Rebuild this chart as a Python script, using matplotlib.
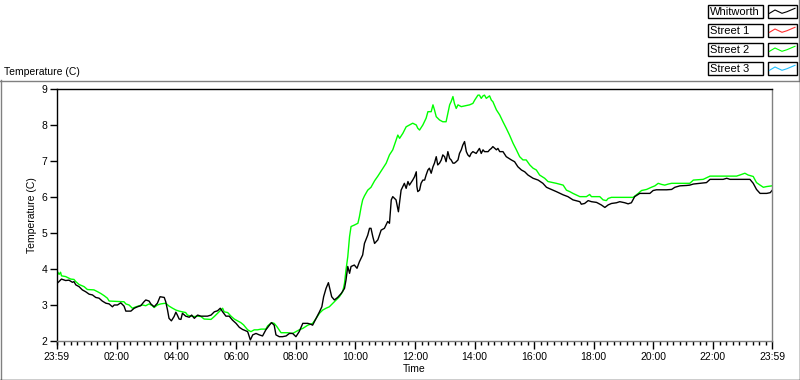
import numpy as np
import matplotlib
matplotlib.use("Agg")
import matplotlib.pyplot as plt
from matplotlib.patches import Rectangle
from matplotlib.ticker import FixedLocator

# -------------------------
# Data (hours after 23:59, temperature in C)
# -------------------------

whitworth_hours = [
    0.00, 0.03, 0.15, 0.29, 0.40, 0.52, 0.57, 0.63, 0.74, 0.85, 0.96, 1.08,
    1.19, 1.30, 1.41, 1.52, 1.64, 1.75, 1.86, 1.92, 2.03, 2.14, 2.25, 2.31,
    2.48, 2.59, 2.70, 2.81, 2.92, 2.98, 3.09, 3.15, 3.26, 3.37, 3.46, 3.60,
    3.65, 3.71, 3.76, 3.84, 3.93, 3.99, 4.04, 4.10, 4.16, 4.21, 4.32, 4.44,
    4.52, 4.61, 4.72, 4.83, 5.05, 5.17, 5.28, 5.39, 5.48, 5.56, 5.67, 5.78,
    5.89, 6.01, 6.12, 6.23, 6.29, 6.40, 6.49, 6.57, 6.68, 6.79, 6.90, 7.01,
    7.13, 7.20, 7.29, 7.35, 7.46, 7.57, 7.69, 7.80, 7.91, 8.02, 8.13, 8.25,
    8.42, 8.53, 8.58, 8.70, 8.81, 8.89, 8.95, 9.03, 9.11, 9.17, 9.22, 9.31,
    9.42, 9.54, 9.65, 9.70, 9.76, 9.82, 9.87, 9.98, 10.07, 10.15, 10.26, 10.32,
    10.43, 10.49, 10.54, 10.60, 10.66, 10.77, 10.88, 10.99, 11.10, 11.16, 11.22, 11.27,
    11.38, 11.46, 11.55, 11.61, 11.66, 11.72, 11.78, 11.83, 11.94, 12.00, 12.06, 12.08,
    12.11, 12.17, 12.22, 12.28, 12.34, 12.39, 12.45, 12.50, 12.56, 12.62, 12.67, 12.73,
    12.78, 12.84, 12.90, 12.95, 13.01, 13.06, 13.12, 13.18, 13.23, 13.29, 13.34, 13.40,
    13.46, 13.51, 13.57, 13.62, 13.68, 13.74, 13.79, 13.85, 13.90, 13.96, 14.07, 14.18,
    14.24, 14.30, 14.35, 14.47, 14.52, 14.58, 14.63, 14.75, 14.80, 14.86, 14.97, 15.08,
    15.25, 15.36, 15.47, 15.59, 15.70, 15.81, 15.98, 16.15, 16.31, 16.43, 16.51, 16.76,
    16.99, 17.15, 17.32, 17.55, 17.60, 17.71, 17.83, 17.94, 18.11, 18.27, 18.39, 18.50,
    18.61, 18.78, 18.89, 19.06, 19.17, 19.28, 19.39, 19.56, 19.90, 20.01, 20.12, 20.46,
    20.63, 20.74, 20.91, 21.13, 21.24, 21.36, 21.58, 21.80, 21.92, 22.36, 22.48, 22.59,
    23.26, 23.37, 23.48, 23.60, 23.82, 23.94, 24.00,
]
whitworth_temp = [
    3.65, 3.62, 3.72, 3.68, 3.69, 3.63, 3.65, 3.56, 3.51, 3.42, 3.37, 3.30,
    3.28, 3.21, 3.19, 3.11, 3.05, 3.03, 2.95, 3.00, 3.00, 3.06, 2.97, 2.83,
    2.83, 2.91, 2.95, 2.98, 3.09, 3.14, 3.11, 3.03, 2.95, 3.05, 3.23, 3.21,
    3.09, 2.86, 2.63, 2.56, 2.68, 2.80, 2.72, 2.61, 2.60, 2.77, 2.69, 2.66,
    2.72, 2.63, 2.72, 2.69, 2.69, 2.72, 2.81, 2.84, 2.91, 2.81, 2.69, 2.69,
    2.58, 2.49, 2.38, 2.32, 2.30, 2.26, 2.03, 2.17, 2.21, 2.17, 2.14, 2.31,
    2.44, 2.51, 2.44, 2.17, 2.12, 2.12, 2.14, 2.21, 2.21, 2.12, 2.26, 2.49,
    2.49, 2.46, 2.44, 2.63, 2.81, 2.95, 3.23, 3.46, 3.62, 3.40, 3.23, 3.14,
    3.21, 3.32, 3.46, 3.69, 4.07, 3.88, 4.07, 4.11, 4.02, 4.20, 4.39, 4.71,
    4.94, 5.13, 5.13, 4.90, 4.71, 4.81, 5.08, 5.13, 5.32, 5.27, 5.92, 6.01,
    5.92, 5.59, 6.19, 6.29, 6.38, 6.24, 6.43, 6.33, 6.47, 6.56, 6.70, 6.29,
    6.15, 6.19, 6.38, 6.47, 6.47, 6.61, 6.75, 6.80, 6.66, 6.84, 6.94, 7.12,
    6.89, 6.94, 7.03, 7.17, 7.12, 6.98, 7.26, 7.07, 7.03, 6.94, 6.94, 6.98,
    7.03, 7.21, 7.31, 7.44, 7.54, 7.26, 7.17, 7.12, 7.21, 7.26, 7.21, 7.35,
    7.21, 7.31, 7.26, 7.26, 7.31, 7.35, 7.40, 7.31, 7.35, 7.26, 7.26, 7.12,
    7.03, 6.98, 6.84, 6.75, 6.70, 6.61, 6.52, 6.47, 6.38, 6.27, 6.24, 6.15,
    6.06, 6.01, 5.92, 5.87, 5.80, 5.82, 5.90, 5.87, 5.85, 5.78, 5.71, 5.78,
    5.82, 5.84, 5.87, 5.84, 5.81, 5.84, 6.01, 6.10, 6.10, 6.18, 6.20, 6.20,
    6.21, 6.27, 6.31, 6.32, 6.33, 6.36, 6.38, 6.40, 6.49, 6.49, 6.52, 6.49,
    6.49, 6.38, 6.21, 6.10, 6.10, 6.12, 6.18,
]

street2_hours = [
    0.00, 0.07, 0.12, 0.15, 0.29, 0.46, 0.57, 0.63, 0.74, 0.91, 1.02, 1.24,
    1.36, 1.47, 1.58, 1.69, 1.75, 2.25, 2.31, 2.42, 2.53, 2.65, 2.76, 2.87,
    2.98, 3.09, 3.20, 3.26, 3.37, 3.48, 3.65, 3.76, 3.88, 3.99, 4.10, 4.21,
    4.32, 4.38, 4.49, 4.61, 4.72, 4.83, 4.94, 5.17, 5.28, 5.39, 5.50, 5.56,
    5.61, 5.73, 5.84, 5.95, 6.06, 6.17, 6.26, 6.40, 6.51, 6.62, 6.73, 6.85,
    7.01, 7.07, 7.20, 7.29, 7.38, 7.52, 7.74, 7.91, 8.02, 8.13, 8.25, 8.42,
    8.58, 8.70, 8.81, 8.92, 9.03, 9.14, 9.26, 9.37, 9.48, 9.59, 9.65, 9.70,
    9.76, 9.82, 9.87, 9.98, 10.10, 10.15, 10.21, 10.26, 10.32, 10.43, 10.54, 10.66,
    10.77, 10.88, 11.05, 11.16, 11.27, 11.38, 11.44, 11.50, 11.61, 11.72, 11.83, 11.94,
    12.06, 12.11, 12.17, 12.28, 12.39, 12.45, 12.56, 12.62, 12.67, 12.73, 12.84, 12.95,
    13.06, 13.12, 13.18, 13.23, 13.29, 13.34, 13.40, 13.46, 13.57, 13.68, 13.85, 13.96,
    14.02, 14.13, 14.18, 14.24, 14.30, 14.35, 14.41, 14.52, 14.58, 14.63, 14.75, 14.86,
    14.97, 15.08, 15.19, 15.31, 15.42, 15.53, 15.64, 15.75, 15.87, 15.98, 16.09, 16.20,
    16.37, 16.48, 16.76, 16.99, 17.10, 17.21, 17.32, 17.55, 17.77, 17.88, 17.94, 18.22,
    18.33, 18.44, 18.50, 18.61, 19.34, 19.51, 19.62, 19.79, 19.95, 20.07, 20.18, 20.29,
    20.40, 20.52, 20.63, 21.24, 21.36, 21.69, 21.92, 22.81, 22.92, 23.09, 23.20, 23.37,
    23.48, 23.60, 23.71, 23.82, 24.00,
]
street2_temp = [
    3.95, 3.85, 3.91, 3.81, 3.79, 3.72, 3.71, 3.65, 3.57, 3.51, 3.43, 3.42,
    3.37, 3.32, 3.26, 3.19, 3.11, 3.09, 3.03, 3.00, 2.91, 2.95, 2.98, 3.00,
    2.98, 3.03, 2.98, 2.93, 3.00, 3.03, 3.05, 2.97, 2.91, 2.86, 2.83, 2.81,
    2.79, 2.72, 2.69, 2.68, 2.69, 2.68, 2.61, 2.60, 2.68, 2.77, 2.86, 2.91,
    2.81, 2.79, 2.69, 2.61, 2.56, 2.51, 2.45, 2.31, 2.26, 2.31, 2.31, 2.33,
    2.33, 2.42, 2.51, 2.49, 2.40, 2.23, 2.23, 2.21, 2.26, 2.31, 2.35, 2.44,
    2.49, 2.63, 2.77, 2.86, 2.91, 2.95, 3.05, 3.14, 3.23, 3.37, 3.60, 3.97,
    4.34, 4.90, 5.18, 5.22, 5.27, 5.45, 5.73, 5.92, 6.03, 6.19, 6.27, 6.45,
    6.58, 6.72, 6.94, 7.17, 7.31, 7.58, 7.72, 7.63, 7.77, 7.95, 8.00, 8.05,
    8.00, 7.91, 7.86, 8.00, 8.19, 8.37, 8.37, 8.56, 8.42, 8.23, 8.14, 8.09,
    8.09, 8.32, 8.56, 8.65, 8.79, 8.60, 8.46, 8.56, 8.51, 8.53, 8.56, 8.60,
    8.69, 8.83, 8.83, 8.74, 8.81, 8.83, 8.74, 8.81, 8.69, 8.65, 8.42, 8.28,
    8.09, 7.91, 7.72, 7.49, 7.31, 7.12, 7.03, 7.03, 6.89, 6.80, 6.75, 6.61,
    6.52, 6.43, 6.38, 6.33, 6.19, 6.15, 6.10, 6.01, 6.01, 6.07, 6.01, 6.01,
    5.92, 5.90, 5.96, 5.99, 5.99, 6.10, 6.18, 6.21, 6.27, 6.31, 6.38, 6.35,
    6.33, 6.36, 6.38, 6.38, 6.47, 6.49, 6.58, 6.58, 6.61, 6.66, 6.61, 6.57,
    6.40, 6.33, 6.27, 6.29, 6.31,
]

tick_labels = ["23:59", "02:00", "04:00", "06:00", "08:00", "10:00", "12:00",
               "14:00", "16:00", "18:00", "20:00", "22:00", "23:59"]

legend_names = ["Whitworth", "Street 1", "Street 2", "Street 3"]
legend_colors = ["#000000", "#ff3030", "#00ff00", "#20c0ff"]

# -------------------------
# Figure
# -------------------------

plt.rcParams["font.family"] = ["Liberation Sans", "DejaVu Sans"]
FS = 7.5

fig = plt.figure(figsize=(8, 3.8), dpi=100)
fig.patch.set_facecolor("white")

# overlay in pixel coordinates for frame and legend
over = fig.add_axes([0, 0, 1, 1], zorder=0)
over.set_xlim(0, 800)
over.set_ylim(380, 0)
over.axis("off")
over.patch.set_alpha(0)

over.plot([0, 800], [80.5, 80.5], color="#808080", lw=1)
over.plot([0.5, 0.5], [80, 380], color="#808080", lw=1)
over.plot([0, 800], [379.5, 379.5], color="black", lw=1)
over.plot([799.5, 799.5], [80, 380], color="black", lw=1)
over.plot([799, 799], [0, 80], color="#808080", lw=1)

over.text(4, 72, "Temperature (C)", fontsize=FS, ha="left", va="center")

zig_x = np.array([1.5, 7, 14, 19, 27])
zig_y = np.array([8.3, 5.0, 8.3, 6.7, 3.3])
for i, (name, col) in enumerate(zip(legend_names, legend_colors)):
    top = 5 + 19 * i
    over.add_patch(Rectangle((708, top), 55, 13, fill=False,
                             edgecolor="black", lw=1))
    over.add_patch(Rectangle((768, top), 29, 13, fill=False,
                             edgecolor="black", lw=1))
    over.text(710, top + 6.8, name, fontsize=8, ha="left", va="center")
    over.plot(768 + zig_x, top + zig_y, color=col, lw=0.8)

# main plot area
ax = fig.add_axes([57 / 800, 39 / 380, 715 / 800, 252 / 380], zorder=1)
ax.set_facecolor("white")

ax.plot(street2_hours, street2_temp, color="#00ff00", lw=1.0)
ax.plot(whitworth_hours, whitworth_temp, color="black", lw=1.0)

ax.set_xlim(0, 24)
ax.set_ylim(2, 9)

major = [0] + [2 * k + 1 / 60 for k in range(1, 12)] + [24]
ax.set_xticks(major)
ax.set_xticklabels(tick_labels, fontsize=FS)
minor = [m for m in np.arange(2 + 1 / 60 - 2 * 2 / 9 * 9, 24.001, 2 / 9)
         if 0 < m < 24]
ax.xaxis.set_minor_locator(FixedLocator(minor))
ax.set_yticks(range(2, 10))
ax.set_yticklabels([str(v) for v in range(2, 10)], fontsize=FS)

ax.tick_params(axis="x", which="major", length=6, width=1, pad=2,
               direction="out")
ax.tick_params(axis="x", which="minor", length=3, width=1, direction="out")
ax.tick_params(axis="y", which="major", length=5, width=1, pad=2,
               direction="out")

for side in ["left", "top"]:
    ax.spines[side].set_color("black")
for side in ["right", "bottom"]:
    ax.spines[side].set_color("#808080")
for sp in ax.spines.values():
    sp.set_linewidth(1)

ax.set_xlabel("Time", fontsize=FS, labelpad=1)
ax.set_ylabel("Temperature (C)", fontsize=FS, labelpad=3)

plt.savefig("out.png", dpi=100)
plt.close()
